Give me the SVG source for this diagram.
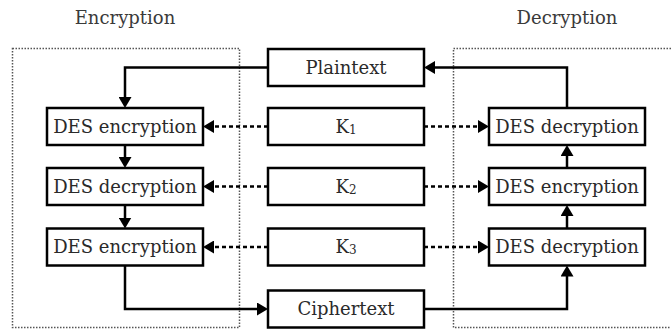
<svg xmlns="http://www.w3.org/2000/svg" width="671" height="331" viewBox="0 0 671 331">
<style>
  .box { fill: #ffffff; stroke: #000000; stroke-width: 2.5; }
  .region { fill: none; stroke: #555555; stroke-width: 1.5; stroke-dasharray: 1.5 1.5; }
  .lbl { font-family: "DejaVu Serif", "Liberation Serif", serif; font-size: 18px; fill: #2a2a2a; text-anchor: middle; }
  .title { font-family: "DejaVu Serif", "Liberation Serif", serif; font-size: 18px; fill: #3a3a3a; text-anchor: middle; }
  .flow { fill: none; stroke: #000000; stroke-width: 2.5; marker-end: url(#ah); }
  .key { fill: none; stroke: #000000; stroke-width: 2.5; stroke-dasharray: 4 3; marker-end: url(#ah); }
</style>
<defs>
  <marker id="ah" viewBox="0 0 11 13" refX="1" refY="6.5" markerWidth="11" markerHeight="13" markerUnits="userSpaceOnUse" orient="auto">
    <path d="M0,0 L11,6.5 L0,13 Z" fill="#000000"/>
  </marker>
</defs>
<rect width="671" height="331" fill="#ffffff"/>

<g id="region-encryption">
  <rect class="region" x="12.5" y="48.5" width="227" height="279"/>
  <text class="title" x="125" y="24">Encryption</text>
</g>
<g id="region-decryption">
  <rect class="region" x="453.5" y="48.5" width="240" height="279"/>
  <text class="title" x="567" y="24">Decryption</text>
</g>

<g id="connectors">
  <path class="flow" d="M268,67.5 H125 V98"/>
  <path class="flow" d="M125,145 V158"/>
  <path class="flow" d="M125,205 V218.5"/>
  <path class="flow" d="M125,265.5 V309 H258"/>
  <path class="flow" d="M424,309 H567 V275.5"/>
  <path class="flow" d="M567,228.5 V215"/>
  <path class="flow" d="M567,168 V155"/>
  <path class="flow" d="M567,108 V67.5 H434"/>
  <path class="key" d="M268,126.5 H213"/>
  <path class="key" d="M268,186.5 H213"/>
  <path class="key" d="M268,247 H213"/>
  <path class="key" d="M424,126.5 H479"/>
  <path class="key" d="M424,186.5 H479"/>
  <path class="key" d="M424,247 H479"/>
</g>

<g id="plaintext">
  <rect class="box" x="268" y="49" width="156" height="37"/>
  <text class="lbl" x="346" y="73.5">Plaintext</text>
</g>
<g id="k1">
  <rect class="box" x="268" y="108" width="156" height="37"/>
  <text class="lbl" x="346" y="132.5">K<tspan font-size="12" dy="1">1</tspan></text>
</g>
<g id="k2">
  <rect class="box" x="268" y="168" width="156" height="37"/>
  <text class="lbl" x="346" y="192.5">K<tspan font-size="12" dy="1">2</tspan></text>
</g>
<g id="k3">
  <rect class="box" x="268" y="228.5" width="156" height="37"/>
  <text class="lbl" x="346" y="253">K<tspan font-size="12" dy="1">3</tspan></text>
</g>
<g id="ciphertext">
  <rect class="box" x="268" y="290.5" width="156" height="37"/>
  <text class="lbl" x="346" y="315">Ciphertext</text>
</g>

<g id="enc1">
  <rect class="box" x="47" y="108" width="156" height="37"/>
  <text class="lbl" x="125" y="132.5">DES encryption</text>
</g>
<g id="enc2">
  <rect class="box" x="47" y="168" width="156" height="37"/>
  <text class="lbl" x="125" y="192.5">DES decryption</text>
</g>
<g id="enc3">
  <rect class="box" x="47" y="228.5" width="156" height="37"/>
  <text class="lbl" x="125" y="253">DES encryption</text>
</g>

<g id="dec1">
  <rect class="box" x="489" y="108" width="156" height="37"/>
  <text class="lbl" x="567" y="132.5">DES decryption</text>
</g>
<g id="dec2">
  <rect class="box" x="489" y="168" width="156" height="37"/>
  <text class="lbl" x="567" y="192.5">DES encryption</text>
</g>
<g id="dec3">
  <rect class="box" x="489" y="228.5" width="156" height="37"/>
  <text class="lbl" x="567" y="253">DES decryption</text>
</g>
</svg>
